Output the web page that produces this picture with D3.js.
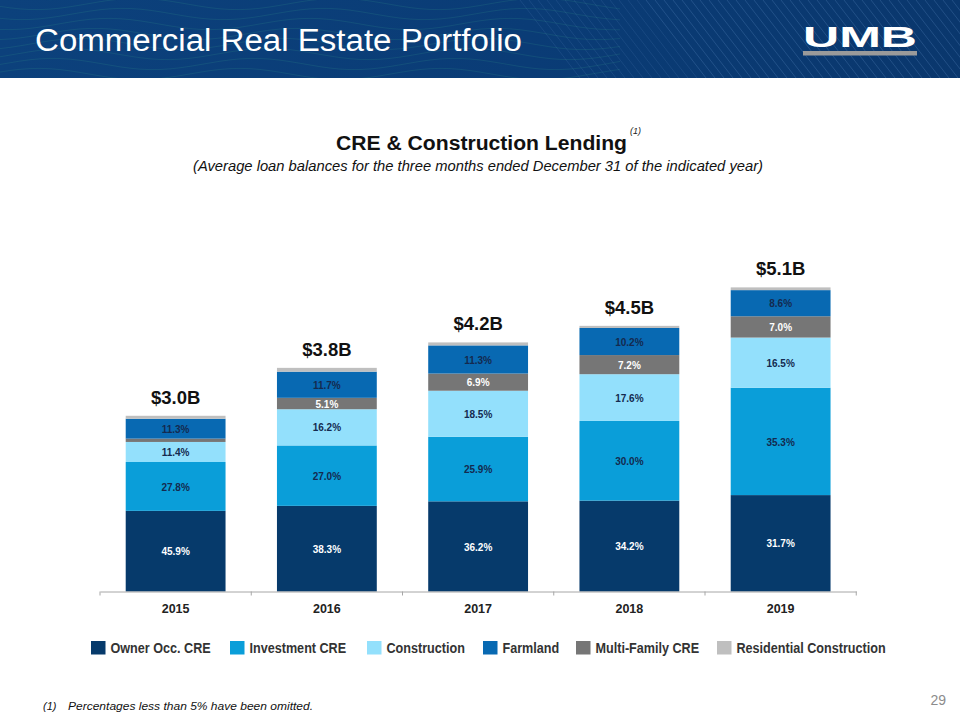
<!DOCTYPE html>
<html lang="en">
<head>
    <meta charset="UTF-8">
    <title>Commercial Real Estate Portfolio</title>
    <style>
        html, body { margin: 0; padding: 0; background: #fff; }
        svg { display: block; font-family: "Liberation Sans", Arial, sans-serif; }
    </style>
</head>
<body>
<svg id="slide" width="960" height="720"></svg>

<script src="https://d3js.org/d3.v7.min.js"></script>
<script>
    // --- Data ---
    const years = ["2015", "2016", "2017", "2018", "2019"];
    const totals = [2.97, 3.78, 4.21, 4.49, 5.14];           // $B, average balances
    const ownerOcc = [45.9, 38.3, 36.2, 34.2, 31.7];          // % of total
    const investment = [27.8, 27.0, 25.9, 30.0, 35.3];
    const construction = [11.4, 16.2, 18.5, 17.6, 16.5];
    const multiFamily = [1.9, 5.1, 6.9, 7.2, 7.0];
    const farmland = [11.3, 11.7, 11.3, 10.2, 8.6];
    const residential = [1.7, 1.7, 1.2, 0.8, 0.9];

    const seriesNames = ["Owner Occ. CRE", "Investment CRE", "Construction", "Farmland", "Multi-Family CRE", "Residential Construction"];
    const seriesColors = ["#063a6b", "#0a9ed9", "#93e0fc", "#0869b2", "#767676", "#bfbfbf"];
    const labelColors = ["#ffffff", "#142a4f", "#142a4f", "#142a4f", "#ffffff", "#142a4f"];
    // bars stack in a different order than the legend
    const stackOrder = ["Owner Occ. CRE", "Investment CRE", "Construction", "Multi-Family CRE", "Farmland", "Residential Construction"];
    const pctBySeries = {
        "Owner Occ. CRE": ownerOcc,
        "Investment CRE": investment,
        "Construction": construction,
        "Farmland": farmland,
        "Multi-Family CRE": multiFamily,
        "Residential Construction": residential
    };

    const svg = d3.select("#slide");
    const color = d3.scaleOrdinal().domain(seriesNames).range(seriesColors);
    const labelColor = d3.scaleOrdinal().domain(seriesNames).range(labelColors);

    // squeeze a text element horizontally (the slide uses a narrow face)
    function condense(sel, factor) {
        sel.each(function() {
            const w = this.getComputedTextLength();
            d3.select(this)
                .attr("textLength", w * factor)
                .attr("lengthAdjust", "spacingAndGlyphs");
        });
    }

    // --- Header band ---
    const defs = svg.append("defs");
    const grad = defs.append("linearGradient").attr("id", "hdr").attr("x1", 0).attr("x2", 1);
    grad.append("stop").attr("offset", "0%").attr("stop-color", "#0c417c");
    grad.append("stop").attr("offset", "55%").attr("stop-color", "#0a3c76");
    grad.append("stop").attr("offset", "100%").attr("stop-color", "#0a376d");
    defs.append("clipPath").attr("id", "hdrClip")
        .append("rect").attr("width", 960).attr("height", 78);

    const header = svg.append("g").attr("clip-path", "url(#hdrClip)");
    header.append("rect").attr("width", 960).attr("height", 78).attr("fill", "url(#hdr)");

    // faint wavy lines on the left
    const wave = d3.line().curve(d3.curveBasis);
    for (let k = 0; k < 9; k++) {
        const pts = [];
        for (let x = -20; x <= 620; x += 20) {
            pts.push([x, k * 10 - 6 + Math.sin((x + k * 14) / 32) * 6]);
        }
        header.append("path")
            .attr("d", wave(pts))
            .attr("fill", "none")
            .attr("stroke", "#3aa38c")
            .attr("stroke-opacity", 0.22)
            .attr("stroke-width", 0.8);
    }
    // diagonal stripes on the right
    for (let x = 520; x < 1060; x += 9) {
        header.append("line")
            .attr("x1", x).attr("y1", 0)
            .attr("x2", x + 60).attr("y2", 78)
            .attr("stroke", "#6f9fd4")
            .attr("stroke-opacity", x < 640 ? 0.18 : 0.3)
            .attr("stroke-width", 0.8);
    }

    header.append("text")
        .attr("x", 35).attr("y", 51)
        .attr("fill", "#ffffff")
        .attr("font-size", 31)
        .attr("textLength", 487)
        .attr("lengthAdjust", "spacingAndGlyphs")
        .text("Commercial Real Estate Portfolio");

    // logo wordmark
    header.append("text")
        .attr("x", 803).attr("y", 47)
        .attr("fill", "#ffffff")
        .attr("font-size", 29)
        .attr("font-weight", 900)
        .attr("textLength", 114)
        .attr("lengthAdjust", "spacingAndGlyphs")
        .text("UMB");
    header.append("rect")
        .attr("x", 803).attr("y", 51).attr("width", 114).attr("height", 4.5)
        .attr("fill", "#9a9a9a");

    // --- Chart titles ---
    svg.append("text")
        .attr("x", 336).attr("y", 150)
        .attr("font-size", 20)
        .attr("font-weight", "bold")
        .attr("fill", "#111")
        .attr("textLength", 291)
        .attr("lengthAdjust", "spacingAndGlyphs")
        .text("CRE & Construction Lending");
    svg.append("text")
        .attr("x", 630).attr("y", 134)
        .attr("font-size", 9)
        .attr("font-style", "italic")
        .attr("fill", "#222")
        .text("(1)");
    svg.append("text")
        .attr("x", 193).attr("y", 171)
        .attr("font-size", 14.5)
        .attr("font-style", "italic")
        .attr("fill", "#111")
        .attr("textLength", 570)
        .attr("lengthAdjust", "spacingAndGlyphs")
        .text("(Average loan balances for the three months ended December 31 of the indicated year)");

    // --- Stacked bars ---
    const x = d3.scaleBand()
        .domain(years)
        .range([100, 856.25])
        .paddingInner(0.34)
        .paddingOuter(0.17);

    const y = d3.scaleLinear()
        .domain([0, 6])
        .range([591.5, 236.5]);

    const rows = years.map((yr, i) => {
        const row = { year: yr, total: totals[i] };
        stackOrder.forEach(s => { row[s] = pctBySeries[s][i] / 100 * totals[i]; });
        return row;
    });

    const stacked = d3.stack().keys(stackOrder)(rows);

    const plot = svg.append("g");
    const layer = plot.selectAll("g.layer")
        .data(stacked)
        .enter()
        .append("g")
        .attr("class", "layer")
        .attr("fill", d => color(d.key));

    layer.selectAll("rect")
        .data(d => d)
        .enter()
        .append("rect")
        .attr("x", d => x(d.data.year))
        .attr("width", x.bandwidth())
        .attr("y", d => y(d[1]))
        .attr("height", d => y(d[0]) - y(d[1]));

    // segment labels, percentages under 5% are left off
    layer.each(function(series) {
        const key = series.key;
        d3.select(this).selectAll("text")
            .data(series.filter((d, i) => pctBySeries[key][i] >= 5))
            .enter()
            .append("text")
            .attr("x", d => x(d.data.year) + x.bandwidth() / 2)
            .attr("y", d => (y(d[0]) + y(d[1])) / 2)
            .attr("dy", "0.36em")
            .attr("text-anchor", "middle")
            .attr("font-size", 11.5)
            .attr("font-weight", "bold")
            .attr("fill", labelColor(key))
            .text(d => pctBySeries[key][years.indexOf(d.data.year)].toFixed(1) + "%")
            .call(condense, 0.87);
    });

    // totals above bars
    plot.selectAll("text.total")
        .data(rows)
        .enter()
        .append("text")
        .attr("class", "total")
        .attr("x", d => x(d.year) + x.bandwidth() / 2)
        .attr("y", d => y(d.total) - 12)
        .attr("text-anchor", "middle")
        .attr("font-size", 18.5)
        .attr("font-weight", "bold")
        .attr("fill", "#111")
        .text(d => "$" + d3.format(".1f")(d.total) + "B");

    // --- Category axis ---
    const axis = svg.append("g")
        .attr("transform", `translate(0, ${y(0)})`)
        .call(d3.axisBottom(x).tickSize(0).tickPadding(13));
    axis.select(".domain").attr("stroke", "#a6a6a6");
    axis.selectAll(".tick text")
        .attr("font-family", "Liberation Sans, Arial, sans-serif")
        .attr("font-size", 12.5)
        .attr("font-weight", "bold")
        .attr("fill", "#222");

    const boundaries = years.map(yr => x(yr) - x.step() * x.paddingInner() / 2)
        .concat([x(years[years.length - 1]) + x.bandwidth() + x.step() * x.paddingInner() / 2]);
    axis.selectAll("line.sep")
        .data(boundaries)
        .enter()
        .append("line")
        .attr("class", "sep")
        .attr("x1", d => d).attr("x2", d => d)
        .attr("y1", 0).attr("y2", 4)
        .attr("stroke", "#a6a6a6");

    // --- Legend ---
    const legendX = [91, 230, 367, 483, 576, 717];
    const legend = svg.append("g")
        .selectAll("g")
        .data(seriesNames)
        .enter()
        .append("g")
        .attr("transform", (d, i) => `translate(${legendX[i]}, 641)`);
    legend.append("rect")
        .attr("width", 14.5).attr("height", 13.5)
        .attr("fill", d => color(d));
    legend.append("text")
        .attr("x", 19.5).attr("y", 11.5)
        .attr("font-size", 14)
        .attr("font-weight", "bold")
        .attr("fill", "#333")
        .text(d => d)
        .call(condense, 0.9);

    // --- Footnote and page number ---
    svg.append("text")
        .attr("x", 43).attr("y", 710)
        .attr("font-size", 11)
        .attr("font-style", "italic")
        .attr("fill", "#111")
        .text("(1)");
    svg.append("text")
        .attr("x", 68).attr("y", 710)
        .attr("font-size", 11.5)
        .attr("font-style", "italic")
        .attr("fill", "#111")
        .attr("textLength", 245)
        .attr("lengthAdjust", "spacingAndGlyphs")
        .text("Percentages less than 5% have been omitted.");
    svg.append("text")
        .attr("x", 946).attr("y", 705)
        .attr("text-anchor", "end")
        .attr("font-size", 14)
        .attr("fill", "#8c8c8c")
        .text("29");
</script>
</body>
</html>
